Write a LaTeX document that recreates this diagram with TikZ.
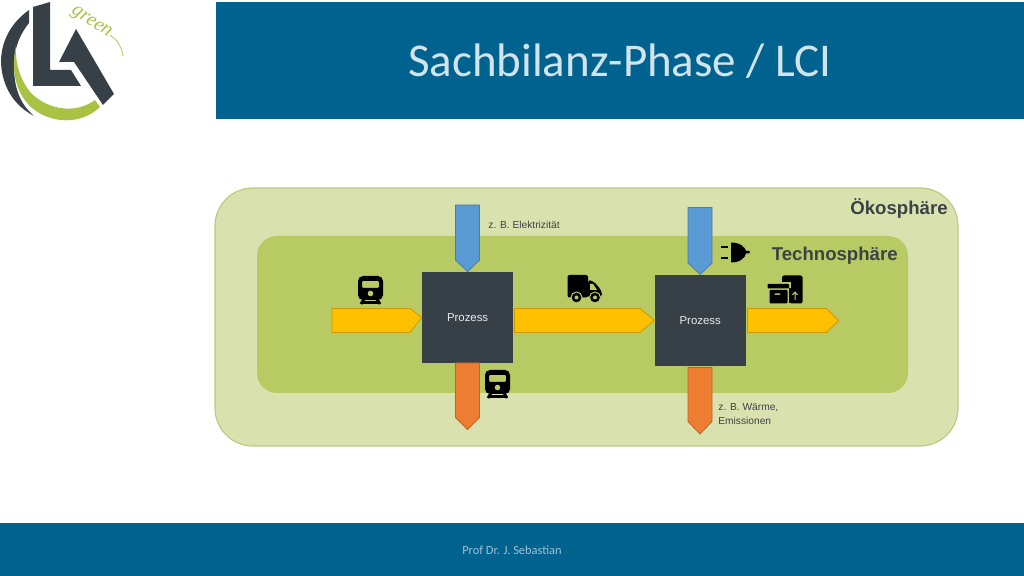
\documentclass[tikz,border=0pt]{standalone}
\usepackage{fontspec}
\setmainfont{Liberation Sans}
\newfontfamily\titlefont{Carlito}
\newfontfamily\greenfont{Liberation Serif}
\usepackage{tikz}
\definecolor{bannerblue}{HTML}{00628F}
\definecolor{slate}{HTML}{373F47}
\definecolor{oekofill}{HTML}{D9E2AE}
\definecolor{oekoline}{HTML}{BCCB80}
\definecolor{technofill}{HTML}{B7CA63}
\definecolor{logogreen}{HTML}{A9C244}
\definecolor{flowyellow}{HTML}{FFC000}
\definecolor{flowblue}{HTML}{5B9BD5}
\definecolor{floworange}{HTML}{ED7D31}
\definecolor{labelgray}{HTML}{3C4347}
\tikzset{
  flowgelb/.style={fill=flowyellow,draw=flowyellow!80!black,line width=0.4pt},
  flowblau/.style={fill=flowblue,draw=flowblue!80!black,line width=0.4pt},
  floworan/.style={fill=floworange,draw=floworange!80!black,line width=0.4pt},
  prozessbox/.style={fill=slate,text=white!90!slate,inner sep=0pt,minimum size=45.5pt,font=\fontsize{5.7}{7}\selectfont},
  smalllabel/.style={text=labelgray,inner sep=0pt,align=left,anchor=west,font=\fontsize{5.1}{7}\selectfont},
  spherelabel/.style={text=labelgray,inner sep=0pt,anchor=east,font=\fontsize{9.3}{12}\selectfont\bfseries},
  trainicon/.pic={
    \fill[black,even odd rule,rounded corners=2.5pt] (0,0) rectangle (25,24)
      [rounded corners=0.5pt] (4,5) rectangle (21,12);
    \fill[technofill] (12.5,17.5) circle (2.8);
    \draw[black,line width=1.4pt] (6,23) -- (3,28) (19,23) -- (22,28) (5,26.5) -- (20,26.5);
  }
}
\begin{document}
\begin{tikzpicture}[x=0.5pt,y=-0.5pt]
 \useasboundingbox (0,0) rectangle (1024,576);
 % banner and footer
 \fill[bannerblue](216,2) rectangle (1024,119);
 \fill[bannerblue](0,523) rectangle (1024,576);
 \node (title) at (620,61) [text=white!82!bannerblue,inner sep=0pt,font=\titlefont\fontsize{23.5}{26}\selectfont] {Sachbilanz-Phase / LCI};
 \node (footer) at (512,550) [text=white!62!bannerblue,inner sep=0pt,font=\titlefont\fontsize{6.2}{8}\selectfont] {Prof Dr. J. Sebastian};
 % logo
 \fill[slate](29,10) .. controls (8,25) and (1,45) .. (1,62) .. controls (2,88) and (15,106) .. (34,116) .. controls (20,104) and (14,88) .. (14,66) .. controls (14,48) and (20,34) .. (29,23) -- cycle;
 \fill[logogreen](16,46) .. controls (11,68) and (15,90) .. (28,104) .. controls (44,122) and (78,128) .. (100,107) -- (95,100) .. controls (76,114) and (50,110) .. (33,95) .. controls (22,84) and (15,66) .. (16,46) -- cycle;
 \fill[slate](33,7)--(50,2)--(50,70)--(71,70)--(81,86)--(33,86)--cycle;
 \fill[slate](76,29)--(114,94)--(103,105)--(74,62)--(59,62)--cycle;
 \node (green) at (91,23) [rotate=-33,inner sep=0pt,text=logogreen,font=\greenfont\itshape\fontsize{10}{11}\selectfont] {green};
 \draw[logogreen,line width=0.35pt](green.east) .. controls (118,40) and (122,48) .. (123,56);
 % spheres
 \draw[fill=oekofill,draw=oekoline,line width=0.6pt,rounded corners=19pt](215,188) rectangle (958,446);
 \fill[technofill,rounded corners=10pt](257,236) rectangle (908,393);
 \node (oeko) at (948,208) [spherelabel] {Ökosphäre};
 \node (techno) at (898,256) [spherelabel] {Technosphäre};
 % processes
 \node (prozessA) at (467.6,317.5) [prozessbox] {Prozess};
 \node (prozessB) at (700.2,320.3) [prozessbox] {Prozess};
 % flows
 \draw[flowgelb](332,308.5)--(410,308.5)--(prozessA.west)--(410,332.5)--(332,332.5)--cycle;
 \draw[flowgelb](514.5,308.5)--(640,308.5)--(prozessB.west)--(640,332.5)--(514.5,332.5)--cycle;
 \draw[flowgelb](747.5,308.5)--(826.5,308.5)--(838.5,320.5)--(826.5,332.5)--(747.5,332.5)--cycle;
 \draw[flowblau](455.5,205)--(479.5,205)--(479.5,260)--(prozessA.north)--(455.5,260)--cycle;
 \draw[flowblau](688,207.5)--(712,207.5)--(712,263)--(prozessB.north)--(688,263)--cycle;
 \draw[floworan](455.5,363)--(479.5,363)--(479.5,417.5)--(467.5,429.5)--(455.5,417.5)--cycle;
 \draw[floworan](688,367.5)--(712,367.5)--(712,421.5)--(700,434)--(688,421.5)--cycle;
 % labels
 \node (strom) at (488,225) [smalllabel] {z. B. Elektrizität};
 \node (waerme) at (718,414) [smalllabel] {z. B. Wärme,\\Emissionen};
 % icons
 \pic at (358,276) {trainicon};
 \pic at (485,370) {trainicon};
 % truck
 \fill[black,rounded corners=1pt](567.5,275) rectangle (588,297.5);
 \fill[black,rounded corners=2pt](587,280.5)--(593,280.5)--(602,291)--(602,297.5)--(587,297.5)--cycle;
 \fill[technofill](590,284)--(593,284)--(597,290)--(590,290)--cycle;
 \fill[black,draw=technofill,line width=0.5pt](576.5,297.5) circle (5.5);
 \fill[black,draw=technofill,line width=0.5pt](595,297.5) circle (5.5);
 \fill[technofill](576.5,297.5) circle (2);
 \fill[technofill](595,297.5) circle (2);
 % plug
 \fill[black](721,246) rectangle (728,248.5);
 \fill[black](721,257) rectangle (728,259.5);
 \fill[black](731,242.5) .. controls (740,242.5) and (745,247) .. (746,251) -- (749.5,251) -- (749.5,253.5) -- (746,253.5) .. controls (745,258) and (740,262.5) .. (731,262.5) -- cycle;
 % archive box and document
 \fill[black,rounded corners=1pt](782,275.5) rectangle (802.5,303.5);
 \fill[technofill](780,282.5) rectangle (790.5,304);
 \fill[black](789,288) rectangle (791.5,303.5);
 \draw[technofill,line width=0.5pt](795,300)--(795,292.5) (792.5,295)--(795,292)--(797.5,295);
 \fill[black,rounded corners=0.5pt](767.5,284) rectangle (789,288.5);
 \fill[black,even odd rule,rounded corners=0.5pt](769.5,290) rectangle (787.5,303.5)
   (774,293.5) rectangle (781,295);
\end{tikzpicture}
\end{document}
